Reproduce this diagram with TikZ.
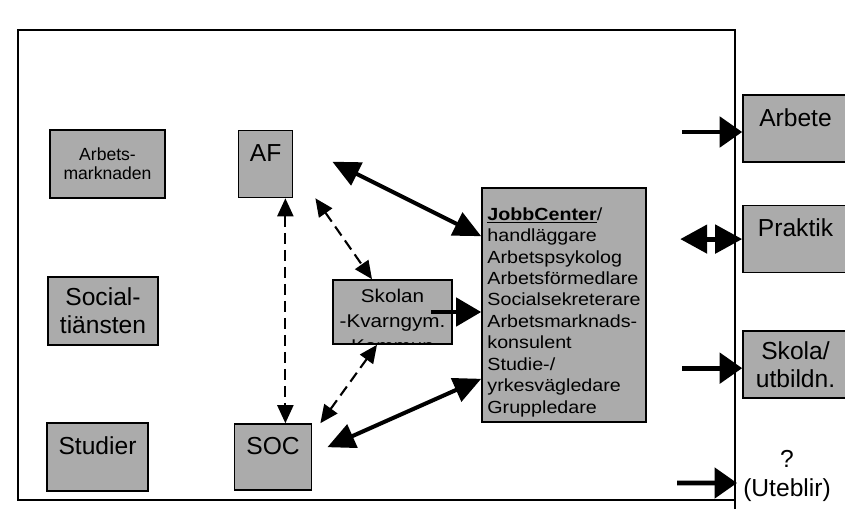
\documentclass[tikz,border=0pt]{standalone}
\usepackage{fontspec}
\setmainfont{Liberation Sans}
\newfontfamily\widesans[FakeStretch=1.12]{Liberation Sans}
\usetikzlibrary{arrows.meta,positioning}

\begin{document}
\begin{tikzpicture}
\tikzset{box/.style={draw,line width=0.9pt,fill=black!33,inner sep=2pt,align=center},
big/.style={font=\fontsize{14}{16}\selectfont},
toptext/.style={text depth=0.45cm},
thick arrow/.style={line width=2.3pt,{Triangle[length=0.55cm,width=0.5cm]}-{Triangle[length=0.55cm,width=0.5cm]}},
dash arrow/.style={line width=1.2pt,dash pattern=on 0.22cm off 0.12cm,{Triangle[length=0.36cm,width=0.32cm]}-{Triangle[length=0.36cm,width=0.32cm]}},
out arrow/.style={line width=2.8pt,-{Triangle[length=0.45cm,width=0.6cm]}}}
\useasboundingbox (0,0) rectangle (16.9,10.18);
\clip (0,0) rectangle (16.9,10.18);

% frame
\draw[line width=0.8pt] (14.7,0) -- (14.7,9.58) -- (0.36,9.58) -- (0.36,0.18) -- (14.7,0.18);

% left column
\node[box,font=\fontsize{10}{11}\selectfont,minimum width=2.3cm,minimum height=1.36cm] (arbm) at (2.15,6.9) {Arbets-\\marknaden};
\node[box,big,minimum width=2.2cm,minimum height=1.36cm] (social) at (2.06,3.96) {Social-\\tiänsten};
\node[box,big,toptext,minimum width=2.02cm,minimum height=1.36cm] (studier) at (1.95,1.04) {Studier};

\node[box,big,toptext,right=1.44cm of arbm,minimum width=1.08cm,minimum height=1.34cm] (af) {AF};
\node[box,big,toptext,right=1.7cm of studier,minimum width=1.54cm,minimum height=1.32cm] (soc) {SOC};

% skolan, third line cut off by the box
\node[box,minimum width=2.38cm,minimum height=1.28cm] (skolan) at (7.85,3.94) {};
\begin{scope}
\clip ([shift={(0.03,0.03)}]skolan.south west) rectangle ([shift={(-0.03,-0.03)}]skolan.north east);
\node[font=\widesans\fontsize{10.5}{14}\selectfont,align=center,anchor=north,inner sep=0pt] (skolantxt) at ([yshift=-0.2cm]skolan.north) {Skolan\\-Kvarngym.\\Kommun};
\end{scope}

\node[box,font=\widesans\fontsize{10}{12.2}\selectfont,align=left,minimum width=3.28cm,minimum height=4.68cm] (jobb) at (11.28,4.08) {\rule{0pt}{0.54cm}\underline{\textbf{JobbCenter}}/\\handläggare\\Arbetspsykolog\\Arbetsförmedlare\\Socialsekreterare\\Arbetsmarknads-\\konsulent\\Studie-/\\yrkesvägledare\\Gruppledare};

% right column
\node[box,big,toptext,minimum width=2.1cm,minimum height=1.34cm] (arbete) at (15.91,7.61) {Arbete};
\node[box,big,toptext,below=0.84cm of arbete,minimum width=2.1cm,minimum height=1.34cm] (praktik) {Praktik};
\node[box,big,below=1.14cm of praktik,minimum width=2.1cm,minimum height=1.34cm] (skola) {Skola/\\utbildn.};
\node[big,align=center] (ute) at (15.74,0.66) {?\\(Uteblir)};

% connectors
\draw[thick arrow] ([shift={(0.78,-0.64)}]af.north east) -- ([yshift=-0.98cm]jobb.north west);
\draw[thick arrow] ([shift={(0.3,-0.48)}]soc.north east) -- ([yshift=0.88cm]jobb.south west);
\draw[line width=2.5pt,-{Triangle[length=0.5cm,width=0.56cm]}] ([xshift=-0.44cm]skolan.east) -- (skolan.east -| jobb.west);

\draw[dash arrow] ([xshift=-0.16cm]af.south east) -- ([xshift=-0.16cm]af.south east |- soc.north);
\draw[dash arrow] ([xshift=0.44cm]af.south east) -- ([xshift=-0.41cm]skolan.north);
\draw[dash arrow] ([xshift=-0.31cm]skolan.south) -- ([xshift=0.16cm]soc.north east);

\coordinate (in1) at ([shift={(-1.2,-0.07)}]arbete.west);
\coordinate (in2) at ([xshift=-1.24cm]praktik.west);
\coordinate (in3) at ([shift={(-1.2,-0.07)}]skola.west);
\coordinate (in4) at ([shift={(-1.2,-0.14)}]ute.west);
\draw[out arrow] (in1) -- ([yshift=-0.07cm]arbete.west);
\draw[line width=2.8pt,{Triangle[length=0.54cm,width=0.56cm]}-{Triangle[length=0.54cm,width=0.56cm]}] (in2) -- (praktik.west);
\draw[out arrow] (in3) -- ([yshift=-0.07cm]skola.west);
\draw[out arrow] (in4) -- ([yshift=-0.14cm]ute.west);
\end{tikzpicture}
\end{document}
